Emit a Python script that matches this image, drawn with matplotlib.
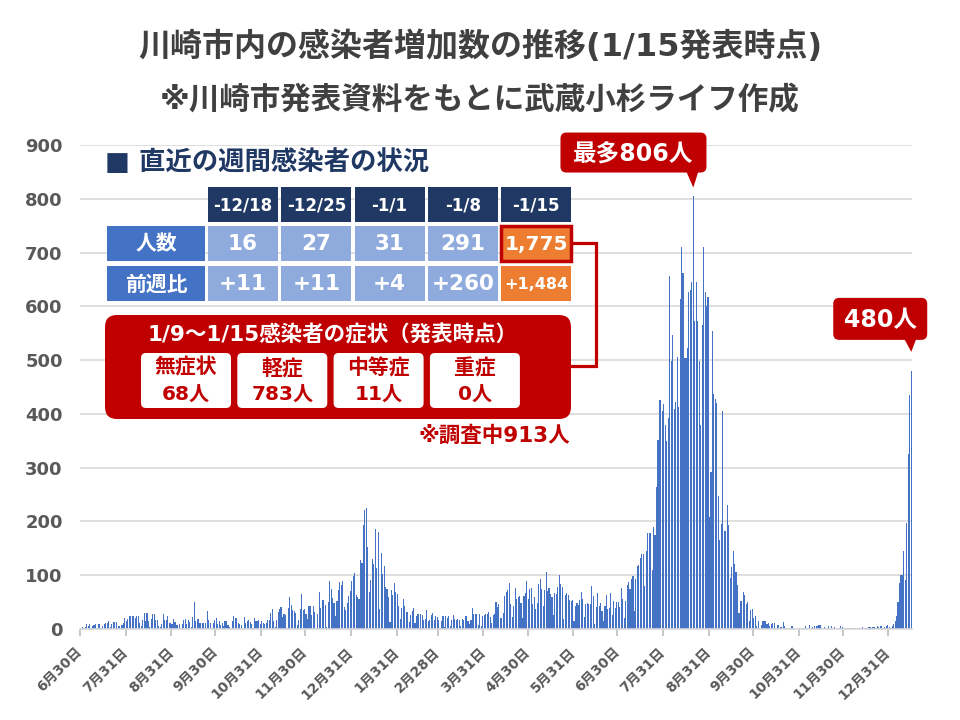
import numpy as np
import pandas as pd
import matplotlib
matplotlib.use("Agg")
import matplotlib.pyplot as plt
from matplotlib.patches import FancyBboxPatch, Rectangle, Polygon

# DejaVu for latin/digits (wide, like the original), Noto for the Japanese glyphs
plt.rcParams["font.family"] = ["DejaVu Sans", "Noto Sans CJK JP"]
plt.rcParams["font.weight"] = "bold"
plt.rcParams["ytick.labelsize"] = 13
plt.rcParams["xtick.labelsize"] = 10
plt.rcParams["ytick.labelcolor"] = "#595959"
plt.rcParams["xtick.labelcolor"] = "#595959"

# 川崎市 daily new cases (2020-06-30 .. 2022-01-15)
start_date = "2020-06-30"
daily_cases = [
    # 2020-06-30 + July 2020
    2, 3, 1, 3, 9, 5, 9, 2, 6, 8, 9, 2, 9, 9, 2, 5, 9, 12, 12, 15, 3, 9, 13, 13, 13, 2, 5, 2, 7, 11, 20, 15,
    # Aug 2020
    18, 24, 24, 24, 24, 21, 24, 24, 11, 5, 16, 30, 15, 30, 15, 3, 19, 28, 28, 16, 17, 6, 3, 9, 27, 16, 17, 25, 12, 12, 10,
    # Sep 2020
    19, 13, 7, 7, 9, 2, 9, 16, 19, 9, 16, 13, 3, 22, 51, 15, 18, 18, 11, 2, 11, 2, 11, 34, 17, 11, 2, 11, 16, 20,
    # Oct 2020
    9, 15, 7, 11, 6, 14, 14, 7, 4, 2, 14, 25, 20, 21, 12, 9, 7, 2, 23, 12, 14, 16, 13, 9, 2, 20, 14, 15, 16, 10, 14,
    # Nov 2020
    11, 9, 12, 17, 17, 29, 37, 14, 3, 16, 32, 37, 40, 22, 28, 26, 1, 39, 59, 45, 35, 34, 29, 7, 17, 37, 65, 35, 37, 28,
    # Dec 2020
    18, 43, 42, 26, 42, 32, 2, 28, 69, 39, 54, 53, 45, 3, 50, 89, 75, 58, 48, 24, 52, 73, 88, 82, 89, 41, 35, 49, 61, 70, 89,
    # Jan 2021
    99, 104, 63, 60, 56, 129, 122, 194, 222, 225, 153, 69, 91, 130, 121, 186, 114, 181, 37, 142, 102, 117, 78, 75, 60, 13, 73, 63, 86, 69, 65,
    # Feb 2021
    43, 19, 39, 56, 43, 32, 32, 13, 26, 34, 39, 11, 24, 28, 2, 28, 26, 17, 19, 35, 15, 17, 26, 30, 17, 24, 22, 17,
    # Mar 2021
    2, 15, 24, 4, 24, 20, 24, 6, 17, 26, 19, 17, 19, 17, 6, 19, 17, 24, 24, 15, 9, 17, 39, 28, 28, 28, 7, 28, 6, 24, 26,
    # Apr 2021
    28, 28, 32, 22, 11, 26, 28, 50, 41, 47, 20, 20, 30, 61, 69, 73, 86, 47, 22, 43, 76, 56, 60, 61, 48, 20, 61, 67, 89, 56,
    # May 2021
    75, 76, 47, 60, 37, 48, 84, 93, 75, 43, 73, 106, 71, 76, 65, 60, 26, 67, 65, 78, 101, 84, 78, 19, 63, 67, 63, 54, 52, 54, 15,
    # Jun 2021
    43, 48, 45, 54, 69, 56, 22, 47, 48, 47, 47, 80, 61, 9, 41, 67, 43, 48, 33, 15, 43, 63, 37, 39, 67, 26, 52, 39, 50, 50,
    # Jul 2021
    41, 76, 56, 20, 52, 82, 87, 74, 93, 99, 33, 93, 117, 119, 132, 139, 139, 80, 145, 178, 178, 178, 110, 190, 175, 264, 351, 426, 426, 405, 418,
    # Aug 2021
    379, 349, 392, 656, 498, 546, 409, 422, 506, 413, 613, 710, 662, 504, 504, 522, 626, 630, 645, 806, 572, 645, 572, 498, 379, 565, 710, 626, 600, 617, 208,
    # Sep 2021
    292, 554, 437, 427, 420, 247, 165, 195, 405, 182, 182, 230, 193, 95, 115, 145, 121, 106, 82, 30, 52, 52, 69, 63, 46, 50, 15, 35, 37, 20,
    # Oct 2021
    24, 6, 15, 2, 7, 15, 15, 15, 9, 11, 6, 9, 11, 11, 2, 7, 7, 4, 4, 13, 6, 0, 2, 0, 2, 6, 0, 0, 0, 0, 2,
    # Nov 2021
    0, 2, 0, 6, 2, 0, 7, 0, 4, 6, 0, 6, 7, 7, 2, 0, 4, 0, 0, 6, 0, 6, 0, 4, 0, 0, 2, 6, 4, 0,
    # Dec 2021
    1, 0, 2, 1, 0, 1, 2, 1, 0, 1, 2, 1, 3, 2, 1, 2, 3, 4, 2, 3, 4, 2, 6, 4, 6, 6, 2, 4, 6, 7, 4,
    # Jan 2022
    2, 6, 10, 15, 24, 50, 85, 101, 101, 145, 91, 198, 325, 435, 480,
]

tick_dates = ["2020-06-30", "2020-07-31", "2020-08-31", "2020-09-30", "2020-10-31",
              "2020-11-30", "2020-12-31", "2021-01-31", "2021-02-28", "2021-03-31",
              "2021-04-30", "2021-05-31", "2021-06-30", "2021-07-31", "2021-08-31",
              "2021-09-30", "2021-10-31", "2021-11-30", "2021-12-31"]
tick_labels = ["6月30日", "7月31日", "8月31日", "9月30日", "10月31日", "11月30日",
               "12月31日", "1月31日", "2月28日", "3月31日", "4月30日", "5月31日",
               "6月30日", "7月31日", "8月31日", "9月30日", "10月31日", "11月30日",
               "12月31日"]

# weekly summary table
week_labels = ["-12/18", "-12/25", "-1/1", "-1/8", "-1/15"]
week_totals = ["16", "27", "31", "291", "1,775"]
week_diff = ["+11", "+11", "+4", "+260", "+1,484"]
symptom_names = ["無症状", "軽症", "中等症", "重症"]
symptom_counts = [68, 783, 11, 0]
under_survey = 913

RED = "#C00000"
NAVY = "#203864"
BLUE = "#4472C4"
LIGHT = "#8FAADC"
ORANGE = "#ED7D31"
GRAY = "#595959"

fig = plt.figure(figsize=(9.6, 7.2), dpi=100)
ax = fig.add_axes([80 / 960, 1 - 629 / 720, 832 / 960, 484 / 720])

x = np.arange(len(daily_cases)) + 0.5
ax.bar(x, daily_cases, width=0.75, color=BLUE, antialiased=False, zorder=2)
ax.set_xlim(0, len(daily_cases))
ax.set_ylim(0, 900)
ax.set_yticks(range(0, 901, 100))
ax.yaxis.grid(True, color="#d9d9d9", lw=1.2)
ax.set_axisbelow(True)
for s in ["left", "right", "top"]:
    ax.spines[s].set_visible(False)
ax.spines["bottom"].set_color("#d9d9d9")
ax.spines["bottom"].set_linewidth(1.2)
ax.tick_params(axis="y", length=0, pad=12.5)

t0 = pd.Timestamp(start_date)
tick_pos = [(pd.Timestamp(d) - t0).days for d in tick_dates]
ax.set_xticks(tick_pos)
ax.set_xticklabels(tick_labels, rotation=45, ha="right", va="center",
                   rotation_mode="anchor")
ax.tick_params(axis="x", length=5, color="#bfbfbf", width=1.2, pad=10)

# overlay in pixel coordinates for annotations
ov = fig.add_axes([0, 0, 1, 1], zorder=5)
ov.set_xlim(0, 960)
ov.set_ylim(720, 0)
ov.axis("off")
ov.patch.set_visible(False)


def to_px(xv, yv):
    disp = ax.transData.transform((xv, yv))
    return ov.transData.inverted().transform(disp)


ov.text(480, 47, "川崎市内の感染者増加数の推移(1/15発表時点)", ha="center", va="center",
        fontsize=23, color="#404040")
ov.text(480, 100, "※川崎市発表資料をもとに武蔵小杉ライフ作成", ha="center", va="center",
        fontsize=22, color="#404040")

# weekly table
ov.text(105, 163, "■ 直近の週間感染者の状況", ha="left", va="center",
        fontsize=19, color=NAVY)


def cell(x0, y0, w, h, fc, text, size, tc="white", ec=None, lw=0):
    ov.add_patch(Rectangle((x0, y0), w, h, facecolor=fc,
                           edgecolor=ec if ec else fc, lw=lw))
    ov.text(x0 + w / 2, y0 + h / 2 + 1, text, ha="center", va="center",
            fontsize=size, color=tc)


col_w, col_step = 70, 73.3
for i, lab in enumerate(week_labels):
    cx = 208 + col_step * i
    cell(cx, 187, col_w, 35, NAVY, lab, 12)
cell(107, 226, 98, 35, BLUE, "人数", 15)
cell(107, 266, 98, 35, BLUE, "前週比", 15)
for i in range(len(week_labels)):
    cx = 208 + col_step * i
    if i == len(week_labels) - 1:
        cell(cx, 226, col_w, 35, ORANGE, week_totals[i], 14.5, ec=RED, lw=2.5)
        cell(cx, 266, col_w, 35, ORANGE, week_diff[i], 11.5)
    else:
        cell(cx, 226, col_w, 35, LIGHT, week_totals[i], 15.5)
        cell(cx, 266, col_w, 35, LIGHT, week_diff[i], 15.5)

# connector
ov.plot([573, 596, 596, 571], [243, 243, 366, 366], color=RED, lw=2.3,
        solid_joinstyle="miter")

# symptoms box
ov.add_patch(FancyBboxPatch((105, 315), 466, 104,
                            boxstyle="round,pad=0,rounding_size=12",
                            fc=RED, ec="none"))
ov.text(333, 335, "1/9～1/15感染者の症状（発表時点）", ha="center", va="center",
        fontsize=15.5, color="white")
for i, (nm, cnt) in enumerate(zip(symptom_names, symptom_counts)):
    bx = 141 + 96.3 * i
    ov.add_patch(FancyBboxPatch((bx, 353), 90, 55,
                                boxstyle="round,pad=0,rounding_size=5",
                                fc="white", ec="none"))
    ov.text(bx + 45, 368, nm, ha="center", va="center", fontsize=15, color=RED)
    ov.text(bx + 45, 394, f"{cnt}人", ha="center", va="center", fontsize=14.5,
            color=RED)
ov.text(570, 436, f"※調査中{under_survey}人", ha="right", va="center",
        fontsize=15.5, color=RED)


def callout(ix, text, box_w, box_h, gap, tip_len, frac, size):
    tx, ty = to_px(ix + 0.5, daily_cases[ix])
    ty -= gap
    bb = ty - tip_len
    bx = tx - frac * box_w
    ov.add_patch(FancyBboxPatch((bx, bb - box_h), box_w, box_h,
                                boxstyle="round,pad=0,rounding_size=6",
                                fc=RED, ec="none"))
    ov.add_patch(Polygon([(tx - 7, bb - 1), (tx + 5, bb - 1), (tx, ty)],
                         closed=True, fc=RED, ec="none"))
    ov.text(bx + box_w / 2, bb - box_h / 2 + 1, text, ha="center", va="center",
            fontsize=size, color="white")


peak = int(np.argmax(daily_cases))
callout(peak, f"最多{daily_cases[peak]}人", 146, 40, 8, 15, 0.91, 17)
last = len(daily_cases) - 1
callout(last, f"{daily_cases[last]}人", 94, 42, 19, 12, 0.83, 17)

fig.savefig("out.png", dpi=100)
